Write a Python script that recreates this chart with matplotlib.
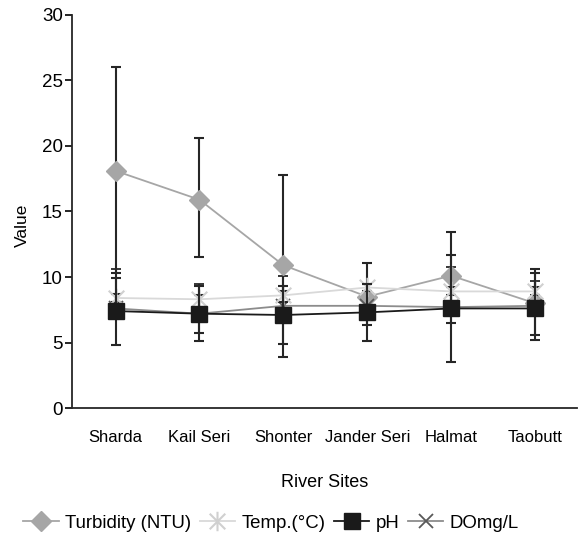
import matplotlib
matplotlib.use("Agg")
import matplotlib.pyplot as plt
from matplotlib.path import Path
from matplotlib.lines import Line2D
import numpy as np

plt.rcParams['font.family'] = ['Liberation Sans', 'DejaVu Sans']

sites = ["Sharda", "Kail Seri", "Shonter", "Jander Seri", "Halmat", "Taobutt"]

turbidity = [18.1, 15.9, 10.9, 8.5, 10.1, 8.0]
turb_lo = [7.8, 4.4, 7.0, 2.2, 3.6, 2.4]
turb_hi = [7.9, 4.7, 6.9, 2.6, 3.3, 2.6]

temp = [8.4, 8.3, 8.6, 9.2, 8.9, 8.9]
temp_lo = [0.3, 2.55, 0.5, 0.3, 0.3, 0.3]
temp_hi = [0.3, 0.3, 0.3, 0.3, 0.3, 0.3]

ph = [7.4, 7.2, 7.1, 7.3, 7.6, 7.6]
ph_lo = [2.6, 2.1, 2.2, 2.2, 4.1, 2.4]
ph_hi = [2.5, 2.1, 2.2, 2.2, 4.1, 2.7]

do = [7.6, 7.2, 7.8, 7.8, 7.7, 7.8]
do_lo = [0.3, 0.3, 0.3, 0.3, 0.3, 0.3]
do_hi = [3.0, 2.3, 2.3, 0.3, 3.1, 1.9]

legend_labels = ['Turbidity (NTU)', 'Temp.(°C)', 'pH', 'DOmg/L']

star = Path([(0, -1), (0, 1), (-0.8, -0.8), (0.8, 0.8), (-0.8, 0.8), (0.8, -0.8)],
            [Path.MOVETO, Path.LINETO, Path.MOVETO, Path.LINETO, Path.MOVETO, Path.LINETO])

fig = plt.figure(figsize=(5.83, 5.43), dpi=100)
ax = fig.add_axes([0.1235, 0.2486, 0.866, 0.7238])

x = np.arange(len(sites))
ecol = '#262626'
ekw = dict(ecolor=ecol, elinewidth=1.5, capsize=3.6, capthick=1.5)

turb_style = dict(color='#a6a6a6', lw=1.3, marker='D', markersize=10.5,
                  markerfacecolor='#a6a6a6', markeredgecolor='#a6a6a6')
temp_style = dict(color='#d9d9d9', lw=1.3, marker=star, markersize=14,
                  markeredgewidth=1.5, markeredgecolor='#d0d0d0')
do_style = dict(color='#8c8c8c', lw=1.3, marker='x', markersize=10,
                markeredgewidth=1.3, markeredgecolor='#595959')
ph_style = dict(color='#1a1a1a', lw=1.3, marker='s', markersize=11.5,
                markerfacecolor='#1a1a1a', markeredgecolor='#1a1a1a')

ax.errorbar(x, turbidity, yerr=[turb_lo, turb_hi], zorder=3, **turb_style, **ekw)
ax.errorbar(x, temp, yerr=[temp_lo, temp_hi], zorder=4, **temp_style, **ekw)
ax.errorbar(x, do, yerr=[do_lo, do_hi], zorder=3, **do_style, **ekw)
ax.errorbar(x, ph, yerr=[ph_lo, ph_hi], zorder=5, **ph_style, **ekw)

ax.set_xlim(-0.52, 5.5)
ax.set_ylim(0, 30)
ax.set_yticks([0, 5, 10, 15, 20, 25, 30])
ax.set_xticks(x)
ax.set_xticklabels(sites, fontsize=12)
ax.tick_params(axis='x', length=0, pad=16)
ax.tick_params(axis='y', labelsize=13.5, length=5, width=1.2, direction='out', pad=1.5)
for s in ['top', 'right']:
    ax.spines[s].set_visible(False)
for s in ['left', 'bottom']:
    ax.spines[s].set_linewidth(1.3)
    ax.spines[s].set_color('#262626')
ax.set_ylabel('Value', fontsize=12.5)
ax.yaxis.set_label_coords(-0.083, 0.465)
ax.set_xlabel('River Sites', fontsize=13, labelpad=21)

leg_handles = [Line2D([], [], **turb_style), Line2D([], [], **temp_style),
               Line2D([], [], **ph_style), Line2D([], [], **do_style)]
fig.legend(leg_handles, legend_labels, loc='center',
           bbox_to_anchor=(0.465, 0.036), ncol=4, frameon=False, fontsize=13.4,
           handlelength=1.9, handletextpad=0.35, columnspacing=0.45)

fig.savefig('out.png', dpi=100)
